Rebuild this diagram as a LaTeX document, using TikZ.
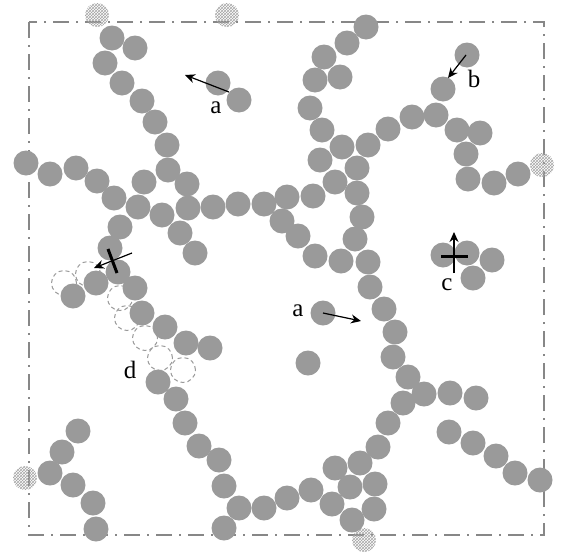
\documentclass[tikz,border=0pt]{standalone}
\usepackage{fontspec}
\setmainfont{Liberation Serif}
\usetikzlibrary{patterns,arrows.meta}
\definecolor{beadgray}{RGB}{154,154,154}
\definecolor{framegray}{RGB}{135,135,135}
\begin{document}
\begin{tikzpicture}[x=1pt,y=-1pt,
  bead/.style={fill=beadgray},
  ghost/.style={draw=beadgray,dashed,line width=1pt,dash pattern=on 4pt off 3pt},
  anchorbead/.style={pattern=crosshatch,pattern color=gray!70},
  frame/.style={draw=framegray,line width=1.8pt,dash pattern=on 16pt off 7pt on 2pt off 7pt},
  moveArrow/.style={-{Stealth[length=10pt,width=9pt]},line width=1.2pt,black},
  bar/.style={line width=3pt,black},
  lbl/.style={font=\fontsize{25}{29}\selectfont,inner sep=0pt}]
\useasboundingbox (0,0) rectangle (561,557);
% frame
\draw[frame] (29,22) rectangle (544,535);
% ghost (previous) positions
\foreach \x/\y in {64/283,88/274,120/298,127/318,145/338,160/358,183/370}
  \draw[ghost] (\x,\y) circle (12.5pt);
% anchored beads on the boundary
\foreach \x/\y in {97/15,227/15,542/165,25/478,364/540}
  \fill[anchorbead] (\x,\y) circle (12pt);
% beads
\foreach \x/\y in {112/38,135/48,105/63,122/83,142/101,155/122,167/145,168/170,187/184,144/182,
  26/163,50/174,76/168,97/181,114/198,138/207,162/215,188/208,213/207,238/204,264/204,
  180/233,195/253,120/227,110/248,118/272,96/283,73/296,135/288,142/313,165/327,186/343,210/348,
  158/382,176/399,185/423,199/446,219/460,224/486,239/508,264/508,287/498,311/490,332/504,
  335/468,360/463,378/447,350/487,375/484,374/509,352/520,224/528,
  388/423,403/403,408/377,424/394,450/393,476/398,393/357,395/332,384/309,370/287,368/262,
  341/261,315/256,298/236,282/221,287/197,313/196,335/182,357/168,357/193,362/217,355/239,
  320/160,342/147,368/145,388/129,412/117,436/115,443/89,467/55,457/130,480/133,466/154,
  468/179,494/183,518/174,322/130,310/108,315/80,340/77,324/57,347/43,366/27,
  449/432,473/443,496/456,515/473,540/480,
  78/431,62/452,50/473,73/485,93/503,96/529,
  218/83,239/100,323/313,308/363,
  443/255,467/253,492/260,473/278}
  \fill[bead] (\x,\y) circle (12.5pt);
% arrows
\coordinate (a1s) at (229,92); \coordinate (a1e) at (185,75);
\draw[moveArrow] (a1s) -- (a1e);
\coordinate (bs) at (466,55); \coordinate (be) at (448,78);
\draw[moveArrow] (bs) -- (be);
\coordinate (a2s) at (323,313); \coordinate (a2e) at (361,321);
\draw[moveArrow] (a2s) -- (a2e);
\coordinate (cs) at (454,273); \coordinate (ce) at (454,232);
\draw[moveArrow] (cs) -- (ce);
\coordinate (cb1) at (441,256); \coordinate (cb2) at (468,256);
\draw[bar] (cb1) -- (cb2);
\coordinate (ds) at (132,253); \coordinate (de) at (94,268);
\draw[moveArrow] (ds) -- (de);
\coordinate (db1) at (108,249); \coordinate (db2) at (117,273);
\draw[bar] (db1) -- (db2);
% labels
\node[lbl] (la1) at (216,108) {a};
\node[lbl] (lb) at (474,79) {b};
\node[lbl] (lc) at (447,285) {c};
\node[lbl] (la2) at (298,311) {a};
\node[lbl] (ld) at (130,370) {d};
\end{tikzpicture}
\end{document}
